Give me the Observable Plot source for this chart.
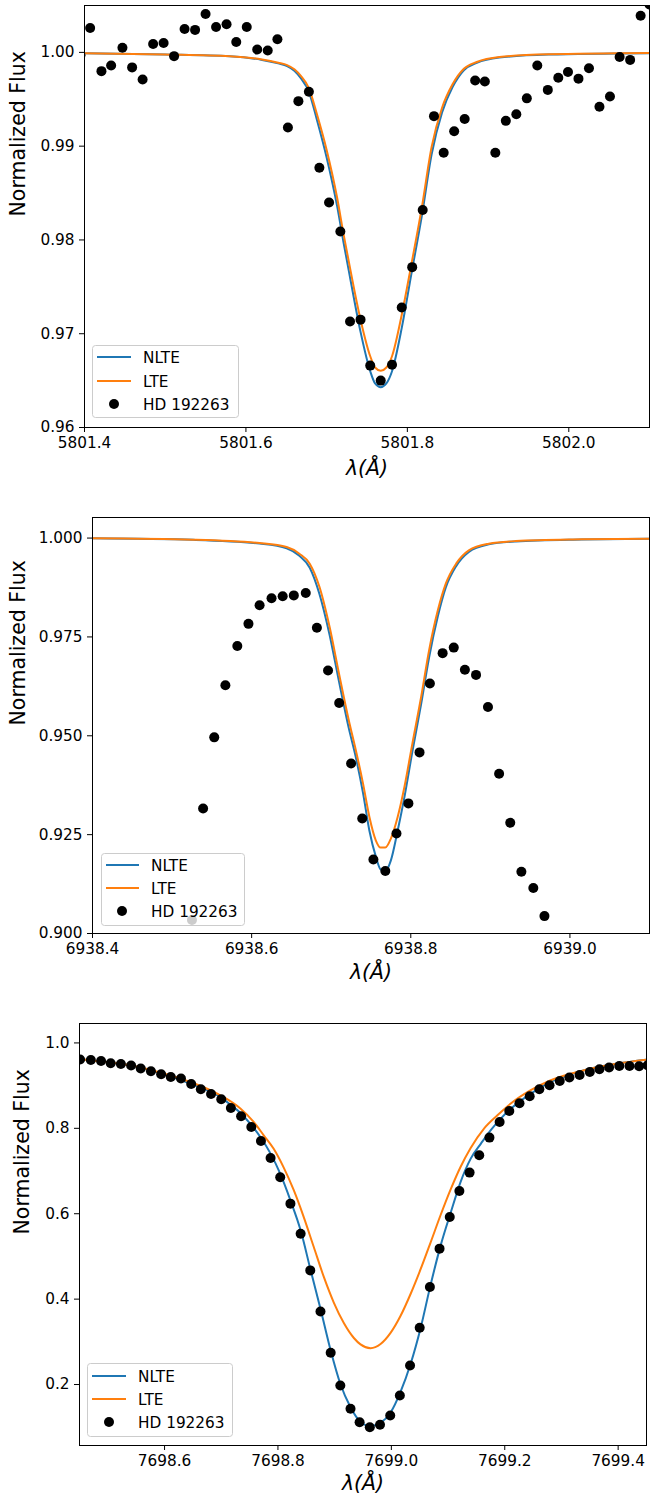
<!DOCTYPE html>
<html>
<head>
<meta charset="utf-8">
<script src="https://cdn.jsdelivr.net/npm/d3@7"></script>
<script src="https://cdn.jsdelivr.net/npm/@observablehq/plot@0.6"></script>
<style>
  body { margin: 0; background: #fff; font-family: "DejaVu Sans", sans-serif; }
  #wrap { position: relative; width: 650px; height: 1504px; overflow: hidden; background: #fff; }
  #wrap > svg { position: absolute; left: 0; }
  .legend text { font-family: "DejaVu Sans", sans-serif; font-size: 15.3px; fill: #000; }
</style>
</head>
<body>
<div id="wrap"></div>
<script>
// ---------- Panel 1: 5801 Å ----------
const p1ObsWave = [5801.395, 5801.407, 5801.421, 5801.433, 5801.447, 5801.459, 5801.472, 5801.485, 5801.498, 5801.511, 5801.524, 5801.537, 5801.550, 5801.563, 5801.576, 5801.588, 5801.601, 5801.614, 5801.627, 5801.639, 5801.652, 5801.665, 5801.678, 5801.691, 5801.703, 5801.717, 5801.729, 5801.742, 5801.754, 5801.767, 5801.781, 5801.793, 5801.806, 5801.819, 5801.833, 5801.845, 5801.858, 5801.871, 5801.884, 5801.896, 5801.909, 5801.922, 5801.935, 5801.948, 5801.961, 5801.974, 5801.987, 5801.999, 5802.012, 5802.025, 5802.038, 5802.051, 5802.063, 5802.076, 5802.089, 5802.100];
const p1ObsFlux = [0.9997, 1.0026, 0.9980, 0.9986, 1.0005, 0.9984, 0.9971, 1.0009, 1.0010, 0.9996, 1.0025, 1.0024, 1.0041, 1.0027, 1.0030, 1.0011, 1.0027, 1.0003, 1.0002, 1.0014, 0.9920, 0.9948, 0.9958, 0.9877, 0.9840, 0.9809, 0.9713, 0.9715, 0.9666, 0.9650, 0.9667, 0.9728, 0.9771, 0.9832, 0.9932, 0.9893, 0.9916, 0.9929, 0.9970, 0.9969, 0.9893, 0.9927, 0.9934, 0.9951, 0.9986, 0.9960, 0.9973, 0.9979, 0.9972, 0.9983, 0.9942, 0.9953, 0.9995, 0.9992, 1.0039, 1.0051];
const p1ModelWave = [5801.400, 5801.500, 5801.580, 5801.620, 5801.640, 5801.651, 5801.660, 5801.668, 5801.678, 5801.688, 5801.700, 5801.713, 5801.721, 5801.729, 5801.742, 5801.754, 5801.760, 5801.767, 5801.774, 5801.781, 5801.793, 5801.805, 5801.818, 5801.830, 5801.843, 5801.856, 5801.870, 5801.886, 5801.914, 5801.975, 5802.100];
const p1NLTE = [0.99990, 0.99977, 0.99958, 0.99920, 0.99883, 0.99855, 0.99805, 0.99725, 0.99580, 0.99280, 0.98880, 0.98360, 0.97970, 0.97600, 0.97020, 0.96600, 0.96470, 0.96430, 0.96470, 0.96600, 0.97060, 0.97640, 0.98260, 0.98910, 0.99360, 0.99630, 0.99810, 0.99888, 0.99945, 0.99977, 0.99992];
const p1LTE  = [0.99990, 0.99978, 0.99960, 0.99925, 0.99890, 0.99865, 0.99820, 0.99750, 0.99620, 0.99340, 0.98960, 0.98450, 0.98060, 0.97700, 0.97150, 0.96760, 0.96640, 0.96605, 0.96640, 0.96760, 0.97200, 0.97740, 0.98350, 0.98990, 0.99410, 0.99660, 0.99826, 0.99897, 0.99950, 0.99979, 0.99993];
const p1XTicks = [5801.4, 5801.6, 5801.8, 5802.0];
const p1YTicks = [0.96, 0.97, 0.98, 0.99, 1.00];

// ---------- Panel 2: 6938 Å ----------
const p2ObsWave = [6938.525, 6938.539, 6938.553, 6938.567, 6938.582, 6938.596, 6938.610, 6938.625, 6938.639, 6938.653, 6938.668, 6938.682, 6938.696, 6938.710, 6938.725, 6938.739, 6938.753, 6938.768, 6938.782, 6938.797, 6938.811, 6938.824, 6938.840, 6938.854, 6938.868, 6938.882, 6938.897, 6938.911, 6938.925, 6938.939, 6938.954, 6938.968];
const p2ObsFlux = [0.9034, 0.9316, 0.9496, 0.9628, 0.9727, 0.9783, 0.9830, 0.9848, 0.9853, 0.9855, 0.9861, 0.9773, 0.9665, 0.9583, 0.9430, 0.9291, 0.9187, 0.9158, 0.9253, 0.9329, 0.9458, 0.9632, 0.9709, 0.9723, 0.9667, 0.9654, 0.9573, 0.9404, 0.9280, 0.9156, 0.9115, 0.9044];
const p2ModelWave = [6938.400, 6938.527, 6938.610, 6938.644, 6938.660, 6938.673, 6938.685, 6938.698, 6938.710, 6938.722, 6938.731, 6938.740, 6938.748, 6938.756, 6938.762, 6938.768, 6938.775, 6938.7835, 6938.792, 6938.802, 6938.813, 6938.823, 6938.834, 6938.844, 6938.857, 6938.873, 6938.898, 6938.932, 6939.015, 6939.100];
const p2NLTE = [0.99993, 0.99955, 0.99860, 0.99740, 0.99550, 0.99250, 0.98600, 0.97550, 0.96350, 0.95200, 0.94450, 0.93550, 0.92600, 0.91950, 0.91620, 0.91580, 0.91850, 0.92600, 0.93450, 0.94600, 0.95800, 0.96980, 0.98020, 0.98750, 0.99290, 0.99650, 0.99840, 0.99915, 0.99963, 0.99983];
const p2LTE  = [0.99995, 0.99960, 0.99874, 0.99772, 0.99605, 0.99353, 0.98780, 0.97750, 0.96550, 0.95400, 0.94630, 0.93791, 0.92947, 0.92358, 0.92174, 0.92174, 0.92401, 0.92947, 0.93706, 0.94803, 0.95981, 0.97161, 0.98172, 0.98847, 0.99353, 0.99689, 0.99858, 0.99924, 0.99967, 0.99985];
const p2XTicks = [6938.4, 6938.6, 6938.8, 6939.0];
const p2YTicks = [0.900, 0.925, 0.950, 0.975, 1.000];

// ---------- Panel 3: 7699 Å ----------
const p3ObsWave = [7698.451, 7698.470, 7698.488, 7698.505, 7698.523, 7698.541, 7698.558, 7698.576, 7698.594, 7698.611, 7698.629, 7698.647, 7698.664, 7698.682, 7698.700, 7698.717, 7698.735, 7698.753, 7698.770, 7698.787, 7698.804, 7698.822, 7698.840, 7698.857, 7698.875, 7698.893, 7698.910, 7698.928, 7698.944, 7698.962, 7698.980, 7698.998, 7699.015, 7699.033, 7699.050, 7699.068, 7699.085, 7699.103, 7699.120, 7699.138, 7699.155, 7699.173, 7699.191, 7699.208, 7699.226, 7699.244, 7699.261, 7699.279, 7699.297, 7699.314, 7699.332, 7699.350, 7699.367, 7699.384, 7699.402, 7699.420, 7699.437, 7699.452];
const p3ObsFlux = [0.9611, 0.9602, 0.9578, 0.9524, 0.9508, 0.9470, 0.9400, 0.9337, 0.9267, 0.9203, 0.9166, 0.9039, 0.8915, 0.8805, 0.8681, 0.8477, 0.8282, 0.8031, 0.7703, 0.7305, 0.6853, 0.6236, 0.5533, 0.4673, 0.3712, 0.2744, 0.1978, 0.1432, 0.1118, 0.1001, 0.1057, 0.1275, 0.1744, 0.2447, 0.3330, 0.4282, 0.5182, 0.5922, 0.6532, 0.6963, 0.7368, 0.7783, 0.8149, 0.8406, 0.8587, 0.8751, 0.8915, 0.9009, 0.9110, 0.9189, 0.9250, 0.9320, 0.9384, 0.9424, 0.9461, 0.9461, 0.9454, 0.9477];
const p3NLTEWave = [7698.450, 7698.500, 7698.550, 7698.600, 7698.645, 7698.698, 7698.716, 7698.734, 7698.751, 7698.769, 7698.787, 7698.804, 7698.822, 7698.840, 7698.857, 7698.875, 7698.893, 7698.910, 7698.928, 7698.946, 7698.963, 7698.981, 7698.999, 7699.016, 7699.034, 7699.052, 7699.069, 7699.087, 7699.105, 7699.122, 7699.140, 7699.158, 7699.175, 7699.193, 7699.211, 7699.246, 7699.281, 7699.340, 7699.399, 7699.451];
const p3NLTE = [0.962, 0.955, 0.945, 0.926, 0.905, 0.8735, 0.8556, 0.8360, 0.8111, 0.7797, 0.7408, 0.6939, 0.6314, 0.5611, 0.4713, 0.3776, 0.2798, 0.2018, 0.1469, 0.1120, 0.1024, 0.1104, 0.1352, 0.1821, 0.2487, 0.3344, 0.4322, 0.5259, 0.6039, 0.6742, 0.7291, 0.7642, 0.7954, 0.8228, 0.8463, 0.8814, 0.9086, 0.9360, 0.9517, 0.9611];
const p3LTEWave = [7698.450, 7698.500, 7698.550, 7698.600, 7698.6454, 7698.6984, 7698.7337, 7698.7572, 7698.7749, 7698.7925, 7698.8102, 7698.8279, 7698.8455, 7698.8632, 7698.8809, 7698.8985, 7698.9162, 7698.9339, 7698.9456, 7698.9633, 7698.9810, 7698.9986, 7699.0163, 7699.0339, 7699.0516, 7699.0693, 7699.0869, 7699.1046, 7699.1222, 7699.1399, 7699.1634, 7699.1871, 7699.2106, 7699.2459, 7699.2812, 7699.3401, 7699.3990, 7699.4507];
const p3LTE = [0.962, 0.955, 0.945, 0.928, 0.9086, 0.8774, 0.8463, 0.8149, 0.7837, 0.7520, 0.7080, 0.6550, 0.5920, 0.5220, 0.4520, 0.3920, 0.3440, 0.3090, 0.2940, 0.2852, 0.2950, 0.3210, 0.3610, 0.4120, 0.4700, 0.5330, 0.5970, 0.6570, 0.7100, 0.7540, 0.7994, 0.8306, 0.8580, 0.8892, 0.9126, 0.9360, 0.9517, 0.9611];
const p3XTicks = [7698.6, 7698.8, 7699.0, 7699.2, 7699.4];
const p3YTicks = [0.2, 0.4, 0.6, 0.8, 1.0];

// ---------- Shared text ----------
const legendLabels = ["NLTE", "LTE", "HD 192263"];
const yLabel = "Normalized Flux";
const xLabel = "λ(Å)";
const colNLTE = "#1f77b4", colLTE = "#ff7f0e";

const wrap = document.getElementById("wrap");

function zip(w, f) { return w.map((x, i) => ({w: x, f: f[i]})); }

function panel(c) {
  const svg = Plot.plot({
    width: 650, height: c.height,
    marginTop: c.mt, marginBottom: c.mb, marginLeft: c.ml, marginRight: c.mr,
    style: {fontFamily: "DejaVu Sans, sans-serif", fontSize: "15.3px", color: "#000", background: "transparent", overflow: "visible"},
    x: {domain: c.xDomain, ticks: c.xTicks, tickFormat: d => d.toFixed(1), tickSize: 5, tickPadding: 5, label: null},
    y: {domain: c.yDomain, ticks: c.yTicks, tickFormat: d => d.toFixed(c.yDec), tickSize: 5, tickPadding: 5, label: null},
    marks: [
      Plot.line(zip(c.nlteWave, c.nlte), {x: "w", y: "f", stroke: colNLTE, strokeWidth: 2, curve: "monotone-x", clip: true}),
      Plot.line(zip(c.lteWave, c.lte), {x: "w", y: "f", stroke: colLTE, strokeWidth: 2, curve: "monotone-x", clip: true}),
      Plot.dot(zip(c.obsWave, c.obsFlux), {x: "w", y: "f", r: 5, fill: "#000", stroke: "none", clip: true}),
      Plot.frame({stroke: "#000", strokeWidth: 1}),
      Plot.text([yLabel], {text: d => d, frameAnchor: "left", rotate: -90, dx: c.ylDx, fontSize: 20.5, fill: "#000"}),
      Plot.text([xLabel], {text: d => d, frameAnchor: "bottom", dy: c.xlDy, fontSize: 20.5, fontStyle: "italic", fill: "#000"})
    ]
  });
  svg.style.top = c.top + "px";
  wrap.appendChild(svg);

  // legend (matplotlib style, semi-transparent white box)
  const L = c.leg;
  const lg = d3.select(wrap).append("svg")
    .attr("class", "legend")
    .style("position", "absolute").style("left", L.left + "px").style("top", L.top + "px")
    .attr("width", L.w).attr("height", L.h);
  lg.append("rect").attr("x", 0.5).attr("y", 0.5).attr("width", L.w - 1).attr("height", L.h - 1)
    .attr("rx", 3).attr("fill", "#fff").attr("fill-opacity", 0.8).attr("stroke", "#cccccc");
  legendLabels.forEach((lab, i) => {
    const y = L.rows[i];
    if (i < 2) {
      lg.append("line").attr("x1", L.lx0).attr("x2", L.lx1).attr("y1", y).attr("y2", y)
        .attr("stroke", i === 0 ? colNLTE : colLTE).attr("stroke-width", 2);
    } else {
      lg.append("circle").attr("cx", L.mx).attr("cy", y).attr("r", 5).attr("fill", "#000");
    }
    lg.append("text").attr("x", L.tx).attr("y", y).attr("dy", "0.36em").text(lab);
  });
}

panel({
  top: 0, height: 500, mt: 5, mb: 73, ml: 84, mr: 1,
  xDomain: [5801.4, 5802.1], yDomain: [0.96, 1.005], xTicks: p1XTicks, yTicks: p1YTicks, yDec: 2,
  obsWave: p1ObsWave, obsFlux: p1ObsFlux,
  nlteWave: p1ModelWave, nlte: p1NLTE, lteWave: p1ModelWave, lte: p1LTE,
  ylDx: -66, xlDy: 47,
  leg: {left: 92, top: 345, w: 147, h: 73, rows: [12, 36, 59], lx0: 5, lx1: 39, mx: 22, tx: 51}
});

panel({
  top: 500, height: 505, mt: 17, mb: 72, ml: 92, mr: 1,
  xDomain: [6938.4, 6939.1], yDomain: [0.9, 1.0052], xTicks: p2XTicks, yTicks: p2YTicks, yDec: 3,
  obsWave: p2ObsWave, obsFlux: p2ObsFlux,
  nlteWave: p2ModelWave, nlte: p2NLTE, lteWave: p2ModelWave, lte: p2LTE,
  ylDx: -74, xlDy: 45,
  leg: {left: 101, top: 853, w: 144, h: 73, rows: [12, 35, 58], lx0: 5, lx1: 38, mx: 21, tx: 50}
});

panel({
  top: 1005, height: 499, mt: 18, mb: 59, ml: 79, mr: 4,
  xDomain: [7698.45, 7699.45], yDomain: [0.0572, 1.0455], xTicks: p3XTicks, yTicks: p3YTicks, yDec: 1,
  obsWave: p3ObsWave, obsFlux: p3ObsFlux,
  nlteWave: p3NLTEWave, nlte: p3NLTE, lteWave: p3LTEWave, lte: p3LTE,
  ylDx: -57, xlDy: 44,
  leg: {left: 87, top: 1363, w: 146, h: 74, rows: [13, 36, 59], lx0: 5, lx1: 39, mx: 22, tx: 51}
});
</script>
</body>
</html>
